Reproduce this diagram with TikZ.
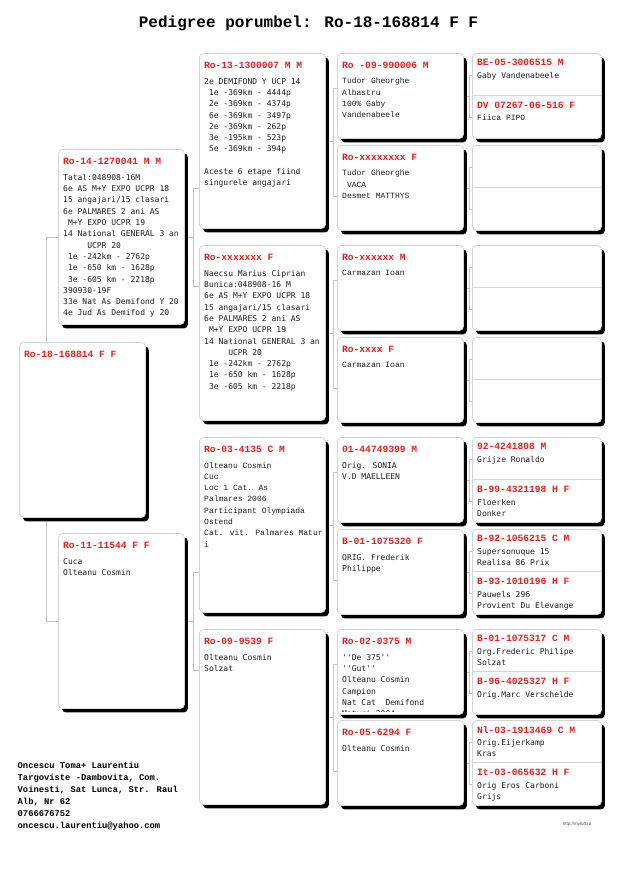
\documentclass[tikz,border=0pt]{standalone}
\usepackage{fontspec}
\usetikzlibrary{shadows,calc,backgrounds}
\newfontfamily\dvm{DejaVu Sans Mono}
\newfontfamily\lmo{Liberation Mono}
\newfontfamily\lsans{Liberation Sans}
\definecolor{pred}{RGB}{228,32,32}
\definecolor{bgray}{RGB}{212,212,212}
\definecolor{cgray}{RGB}{195,195,195}
\definecolor{txt}{RGB}{30,30,30}
\tikzset{
 pbox/.style={draw=bgray, line width=0.8pt, fill=white, rounded corners=4pt, anchor=north west, inner sep=0pt,
   drop shadow={shadow xshift=3.5pt, shadow yshift=-4pt, fill=black, opacity=1}},
 bigbox/.style={pbox, minimum width=126pt, minimum height=175pt},
 smallbox/.style={pbox, minimum width=126pt, minimum height=85pt},
 gfbox/.style={pbox, minimum width=129pt, minimum height=85pt},
 ttl/.style={anchor=north west, inner sep=0pt, text=pred, font={\lmo\bfseries\fontsize{9.6}{11}\selectfont}},
 bdy/.style={anchor=north west, inner sep=0pt, text=txt, align=left, font={\dvm\fontsize{8}{11.3}\selectfont}},
 bdyc/.style={bdy, font={\lmo\fontsize{8}{11.3}\selectfont}},
 bdyf/.style={bdy, font={\dvm\fontsize{8}{11}\selectfont}},
 bdyfc/.style={bdy, font={\lmo\fontsize{8}{11}\selectfont}},
 conn/.style={draw=cgray, line width=0.7pt},
 divl/.style={draw=bgray, line width=1pt},
}
\newcommand\pbr[5]{%
 \coordinate (tmpj) at ($(#2.west)+(-#5,0)$);
 \draw[conn] ($(#2.west)+(0,#4)$) -| ($(#3.west)+(-#5,{-(#4)})$) -- ($(#3.west)+(0,{-(#4)})$);
 \draw[conn] (#1.east) -- (#1.east -| tmpj);}
\newcommand\qbr[2]{%
 \coordinate (tmpk) at ($(#2.west)+(-3,0)$);
 \draw[conn] ($(#2.west)+(0,-21)$) -| ($(#2.west)+(-3,21)$) -- ($(#2.west)+(0,21)$);
 \draw[conn] (#1.east) -- (#1.east -| tmpk);}
\begin{document}
\begin{tikzpicture}[x=1pt,y=-1pt]
\useasboundingbox (0,0) rectangle (617,882);

% title
\node[anchor=base, inner sep=0pt, font={\lmo\bfseries\fontsize{16}{18}\selectfont}] (title) at (308.5,27.5) {Pedigree porumbel: Ro-18-168814 F F};

% boxes gen1
\node[bigbox] (b18) at (19,342) {};
\node[bigbox] (b14) at (58,149) {};
\node[bigbox] (b11) at (58,533) {};
% gen2
\node[bigbox] (g2a) at (199,53) {};
\node[bigbox] (g2b) at (199,245) {};
\node[bigbox] (g2c) at (199,437) {};
\node[bigbox] (g2d) at (199,629) {};
% gen3
\node[smallbox] (g3a) at (337,53) {};
\node[smallbox] (g3b) at (337,145) {};
\node[smallbox] (g3c) at (337,245) {};
\node[smallbox] (g3d) at (337,337) {};
\node[smallbox] (g3e) at (337,437) {};
\node[smallbox] (g3f) at (337,529) {};
\node[smallbox] (g3g) at (337,629) {};
\node[smallbox] (g3h) at (337,720) {};
% gen4
\foreach \n/\y in {a/53,b/145,c/245,d/337,e/437,f/529,g/629,h/720}{
  \node[gfbox] (g4\n) at (472,\y) {};
  \draw[divl] (g4\n.west) -- (g4\n.east);
}

% connectors
\begin{scope}[on background layer]
\fill[white] (0,0) rectangle (617,882);
\draw[conn] (b14.west) -- ++(-12,0) |- (b11.west);
\pbr{b14}{g2a}{g2b}{47}{6}
\pbr{b11}{g2c}{g2d}{47}{6}
\pbr{g2a}{g3a}{g3b}{-8}{4}
\pbr{g2b}{g3c}{g3d}{-8}{4}
\pbr{g2c}{g3e}{g3f}{-8}{4}
\pbr{g2d}{g3g}{g3h}{-8}{4}
\qbr{g3a}{g4a}
\qbr{g3b}{g4b}
\qbr{g3c}{g4c}
\qbr{g3d}{g4d}
\qbr{g3e}{g4e}
\qbr{g3f}{g4f}
\qbr{g3g}{g4g}
\qbr{g3h}{g4h}
\end{scope}

% gen1 texts
\node[ttl] (t18) at ($(b18.north west)+(5,8.5)$) {Ro-18-168814 F F};
\node[ttl] (t14) at ($(b14.north west)+(5,8.5)$) {Ro-14-1270041 M M};
\node[bdy] (x14) at ($(b14.north west)+(5,25)$) {Tatal:048908-16M\\6e AS M+Y EXPO UCPR 18\\15 angajari/15 clasari\\6e PALMARES 2 ani AS\\~M+Y EXPO UCPR 19\\14 National GENERAL 3 an\\~~~~~UCPR 20\\~1e -242km - 2762p\\~1e -650 km - 1628p\\~3e -605 km - 2218p\\390930-19F\\33e Nat As Demifond Y 20\\4e Jud As Demifod y 20};
\node[ttl] (t11) at ($(b11.north west)+(5,8.5)$) {Ro-11-11544 F F};
\node[bdy] (x11) at ($(b11.north west)+(5,25)$) {Cuca\\Olteanu Cosmin};

% gen2 texts
\node[ttl] (t2a) at ($(g2a.north west)+(5,8.5)$) {Ro-13-1300007 M M};
\node[bdy] (x2a) at ($(g2a.north west)+(5,25)$) {2e DEMIFOND Y UCP 14\\~1e -369km - 4444p\\~2e -369km - 4374p\\~6e -369km - 3497p\\~2e -369km - 262p\\~3e -195km - 523p\\~5e -369km - 394p\\[11.3pt]Aceste 6 etape fiind\\singurele angajari};
\node[ttl] (t2b) at ($(g2b.north west)+(5,8.5)$) {Ro-xxxxxxx F};
\node[bdy] (x2b) at ($(g2b.north west)+(5,25)$) {Naecsu Marius Ciprian\\Bunica:048908-16 M\\6e AS M+Y EXPO UCPR 18\\15 angajari/15 clasari\\6e PALMARES 2 ani AS\\~M+Y EXPO UCPR 19\\14 National GENERAL 3 an\\~~~~~UCPR 20\\~1e -242km - 2762p\\~1e -650 km - 1628p\\~3e -605 km - 2218p};
\node[ttl] (t2c) at ($(g2c.north west)+(5,8.5)$) {Ro-03-4135 C M};
\node[bdyc] (x2c) at ($(g2c.north west)+(5,25)$) {Olteanu Cosmin\\Cuc\\Loc 1 Cat. As\\Palmares 2006\\Participant Olympiada\\Ostend\\Cat. vit. Palmares Matur\\i};
\node[ttl] (t2d) at ($(g2d.north west)+(5,8.5)$) {Ro-09-9539 F};
\node[bdy] (x2d) at ($(g2d.north west)+(5,25)$) {Olteanu Cosmin\\Solzat};

% gen3 texts
\node[ttl] (t3a) at ($(g3a.north west)+(5,8.5)$) {Ro -09-990006 M};
\node[bdyc] (x3a) at ($(g3a.north west)+(5,25)$) {Tudor Gheorghe\\Albastru\\100\% Gaby\\Vandenabeele};
\node[ttl] (t3b) at ($(g3b.north west)+(5,8.5)$) {Ro-xxxxxxxx F};
\node[bdyc] (x3b) at ($(g3b.north west)+(5,25)$) {Tudor Gheorghe\\~VACA\\Desmet MATTHYS};
\node[ttl] (t3c) at ($(g3c.north west)+(5,8.5)$) {Ro-xxxxxx M};
\node[bdyc] (x3c) at ($(g3c.north west)+(5,25)$) {Carmazan Ioan};
\node[ttl] (t3d) at ($(g3d.north west)+(5,8.5)$) {Ro-xxxx F};
\node[bdyc] (x3d) at ($(g3d.north west)+(5,25)$) {Carmazan Ioan};
\node[ttl] (t3e) at ($(g3e.north west)+(5,8.5)$) {01-44749399 M};
\node[bdy] (x3e) at ($(g3e.north west)+(5,25)$) {Orig. SONIA\\V.D MAELLEEN};
\node[ttl] (t3f) at ($(g3f.north west)+(5,8.5)$) {B-01-1075320 F};
\node[bdy] (x3f) at ($(g3f.north west)+(5,25)$) {ORIG. Frederik\\Philippe};
\node[ttl] (t3g) at ($(g3g.north west)+(5,8.5)$) {Ro-02-0375 M};
\begin{scope}
\clip ($(g3g.north west)+(1,1)$) rectangle ($(g3g.south east)+(-1,-3)$);
\node[bdy] (x3g) at ($(g3g.north west)+(5,25)$) {\char39\char39De 375\char39\char39\\\char39\char39Gut\char39\char39\\Olteanu Cosmin\\Campion\\Nat Cat~ Demifond\\Maturi 2004};
\end{scope}
\node[ttl] (t3h) at ($(g3h.north west)+(5,8.5)$) {Ro-05-6294 F};
\node[bdy] (x3h) at ($(g3h.north west)+(5,25)$) {Olteanu Cosmin};

% gen4 texts
\node[ttl] (t4a1) at ($(g4a.north west)+(5,6)$) {BE-05-3006515 M};
\node[bdyf] (x4a1) at ($(g4a.north west)+(5,19.5)$) {Gaby Vandenabeele};
\node[ttl] (t4a2) at ($(g4a.north west)+(5,48.5)$) {DV 07267-06-516 F};
\node[bdyfc] (x4a2) at ($(g4a.north west)+(5,62)$) {Fiica PIPO};

\node[ttl] (t4e1) at ($(g4e.north west)+(5,6)$) {92-4241808 M};
\node[bdyf] (x4e1) at ($(g4e.north west)+(5,19.5)$) {Grijze Ronaldo};
\node[ttl] (t4e2) at ($(g4e.north west)+(5,48.5)$) {B-99-4321198 H F};
\node[bdyf] (x4e2) at ($(g4e.north west)+(5,62)$) {Floerken\\Donker};

\node[ttl] (t4f1) at ($(g4f.north west)+(5,6)$) {B-92-1056215 C M};
\node[bdyf] (x4f1) at ($(g4f.north west)+(5,19.5)$) {Supersonuque 15\\Realisa 86 Prix};
\node[ttl] (t4f2) at ($(g4f.north west)+(5,48.5)$) {B-93-1010196 H F};
\node[bdyf] (x4f2) at ($(g4f.north west)+(5,62)$) {Pauwels 296\\Provient Du Elevange};

\node[ttl] (t4g1) at ($(g4g.north west)+(5,6)$) {B-01-1075317 C M};
\node[bdyf] (x4g1) at ($(g4g.north west)+(5,19.5)$) {Org.Frederic Philipe\\Solzat};
\node[ttl] (t4g2) at ($(g4g.north west)+(5,48.5)$) {B-96-4025327 H F};
\node[bdyf] (x4g2) at ($(g4g.north west)+(5,62)$) {Orig.Marc Verschelde};

\node[ttl] (t4h1) at ($(g4h.north west)+(5,6)$) {Nl-03-1913469 C M};
\node[bdyf] (x4h1) at ($(g4h.north west)+(5,19.5)$) {Orig.Eijerkamp\\Kras};
\node[ttl] (t4h2) at ($(g4h.north west)+(5,48.5)$) {It-03-065632 H F};
\node[bdyf] (x4h2) at ($(g4h.north west)+(5,62)$) {Orig Eros Carboni\\Grijs};

% owner
\node[anchor=north west, inner sep=0pt, align=left, font={\lmo\bfseries\fontsize{8.8}{11.9}\selectfont}] (owner) at (17.5,762) {Oncescu Toma+ Laurentiu\\Targoviste -Dambovita, Com.\\Voinesti, Sat Lunca, Str. Raul\\Alb, Nr 62\\0766676752\\oncescu.laurentiu@yahoo.com};

% site
\node[inner sep=0pt, text=black!70, font={\lsans\fontsize{4.5}{5}\selectfont}] (site) at (577,824) {http://myloft.ro};
\end{tikzpicture}
\end{document}
